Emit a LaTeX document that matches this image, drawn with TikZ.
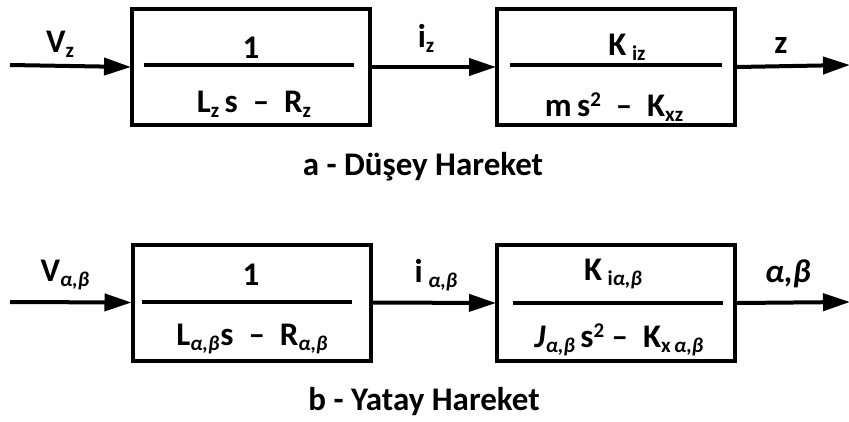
\documentclass[tikz,border=0pt]{standalone}
\usepackage{fontspec}
\setmainfont{Carlito}
\usetikzlibrary{arrows.meta}
\newcommand\lowsub[1]{\raisebox{-5pt}{\fontsize{21}{22}\selectfont #1}}
\newcommand\gab{\textit{α,β}}
\newcommand\supt[1]{\raisebox{10pt}{\fontsize{21}{22}\selectfont #1}}
\begin{document}
\begin{tikzpicture}[x=1pt,y=-1pt,
  every node/.style={font=\bfseries\fontsize{33}{36}\selectfont, inner sep=0pt},
  blk/.style={draw, line width=4pt, minimum width=238pt, minimum height=116pt},
  sig/.style={line width=4pt, -{Triangle[length=27pt,width=17pt]}, shorten >=-1pt},
  frac/.style={line width=4pt},
  lbl/.style={anchor=base}]
\useasboundingbox (0,0) rectangle (849,421);
% top row
\node[blk] (A1) at (251,67) {};
\node[blk] (A2) at (616,67) {};
\coordinate (a0) at (10,65);
\coordinate (a3) at (849,65);
\draw[sig] (a0) -- (A1.west);
\draw[sig] (A1.east) -- (A2.west);
\draw[sig] (A2.east) -- (a3);
\draw[frac] (144,65) coordinate (f1a) -- (354,65) coordinate (f1b);
\draw[frac] (510,65) coordinate (f2a) -- (722,65) coordinate (f2b);
\node[lbl] (vz) at (60,52) {V\lowsub{z}};
\node[lbl] (iz) at (426,47) {i\lowsub{z}};
\node[lbl] (zz) at (781,53) {z};
\node[lbl] (n1) at (251,58) {1};
\node[lbl] (d1) at (254,112) {L\lowsub{z}\,s\ \ –\ \ R\lowsub{z}};
\node[lbl] (n2) at (627,55) {K\,\lowsub{iz}};
\node[lbl] (d2) at (614,116) {m\,s\supt{2}\ \ –\ \ K\lowsub{xz}};
\node[lbl] (capa) at (423,175) {a - Düşey Hareket};
% bottom row
\node[blk] (B1) at (251.5,302.5) {};
\node[blk] (B2) at (616,303) {};
\coordinate (b0) at (10,302);
\coordinate (b3) at (849,302);
\draw[sig] (b0) -- (B1.west);
\draw[sig] (B1.east) -- (B2.west);
\draw[sig] (B2.east) -- (b3);
\draw[frac] (142,302) coordinate (g1a) -- (352,302) coordinate (g1b);
\draw[frac] (513,303) coordinate (g2a) -- (723,303) coordinate (g2b);
\node[lbl] (vab) at (65,281) {V\lowsub{\gab}};
\node[lbl] (iab) at (436,282) {i\,\lowsub{\gab}};
\node[lbl] (ab) at (788,282) {\gab};
\node[lbl] (n3) at (251,285) {1};
\node[lbl] (d3) at (252,345) {L\lowsub{\gab}\kern1pt s\ \ –\ \ R\lowsub{\gab}};
\node[lbl] (n4) at (613,280) {K\,\lowsub{i\gab}};
\node[lbl] (d4) at (619,347) {\textit{J}\lowsub{\gab}\,s\supt{2}\ –\ \ K\lowsub{x\,\gab}};
\node[lbl] (capb) at (424,410) {b - Yatay Hareket};
\end{tikzpicture}
\end{document}
